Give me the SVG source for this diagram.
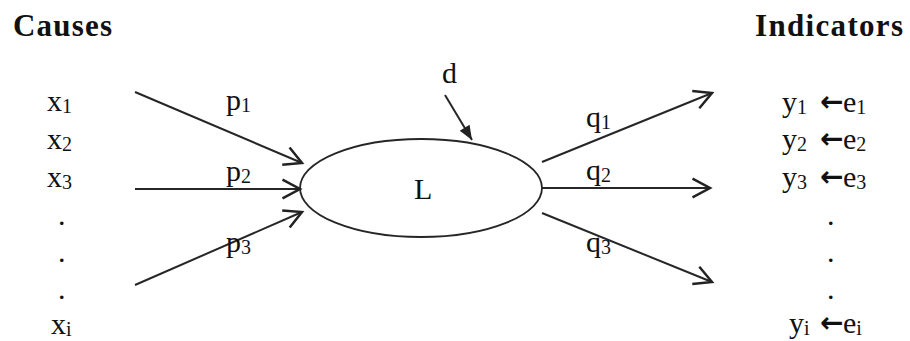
<svg xmlns="http://www.w3.org/2000/svg" width="910" height="341" viewBox="0 0 910 341">
<style>
text{font-family:"Liberation Serif","DejaVu Serif",serif;fill:#111}
.t{font-size:30px}
.s{font-size:20px}
.h{font-size:31px;font-weight:bold}
.ar{font-family:"DejaVu Sans",sans-serif;font-size:28px;font-weight:bold}
.ln{stroke:#262626;stroke-width:2;fill:none}
</style>
<defs>
<marker id="open" markerUnits="userSpaceOnUse" markerWidth="30" markerHeight="30" viewBox="-20 -12 24 24" refX="0" refY="0" orient="auto">
<path d="M-14,-7.5 L0,0 L-14,7.5" fill="none" stroke="#222" stroke-width="2"/>
</marker>
<marker id="solid" markerUnits="userSpaceOnUse" markerWidth="20" markerHeight="20" viewBox="-12 -6 14 12" refX="0" refY="0" orient="auto">
<path d="M-10,-4 L0,0 L-10,4 Z" fill="#222"/>
</marker>
</defs>
<rect width="910" height="341" fill="#fff"/>
<g id="headers">
<text class="h" x="13" y="36" textLength="99">Causes</text>
<text class="h" x="755" y="36" textLength="148">Indicators</text>
</g>
<g id="causes">
<text class="t" x="47" y="111">x<tspan class="s" dy="2">1</tspan></text>
<text class="t" x="47" y="149">x<tspan class="s" dy="2">2</tspan></text>
<text class="t" x="47" y="187">x<tspan class="s" dy="2">3</tspan></text>
<text class="t" x="58" y="225">.</text>
<text class="t" x="58" y="262">.</text>
<text class="t" x="58" y="299">.</text>
<text class="t" x="51" y="334">x<tspan class="s" dy="2">i</tspan></text>
</g>
<g id="latent">
<ellipse cx="421" cy="188" rx="121" ry="49" fill="#fff" stroke="#262626" stroke-width="1.8"/>
<text class="t" x="414" y="199">L</text>
</g>
<g id="disturbance">
<text class="t" x="442" y="83">d</text>
</g>
<g id="indicators">
<text class="t" y="112"><tspan x="782">y</tspan><tspan class="s" dy="2">1</tspan><tspan class="ar" x="820" dy="-3">←</tspan><tspan x="843" dy="1">e</tspan><tspan class="s" dy="2">1</tspan></text>
<text class="t" y="149"><tspan x="782">y</tspan><tspan class="s" dy="2">2</tspan><tspan class="ar" x="820" dy="-3">←</tspan><tspan x="843" dy="1">e</tspan><tspan class="s" dy="2">2</tspan></text>
<text class="t" y="187"><tspan x="782">y</tspan><tspan class="s" dy="2">3</tspan><tspan class="ar" x="820" dy="-3">←</tspan><tspan x="843" dy="1">e</tspan><tspan class="s" dy="2">3</tspan></text>
<text class="t" x="827" y="225">.</text>
<text class="t" x="827" y="262">.</text>
<text class="t" x="827" y="299">.</text>
<text class="t" y="333"><tspan x="789">y</tspan><tspan class="s" dy="2">i</tspan><tspan class="ar" x="820" dy="-3">←</tspan><tspan x="843" dy="1">e</tspan><tspan class="s" dy="2">i</tspan></text>
</g>
<g id="connectors">
<line class="ln" x1="135" y1="92" x2="302" y2="163" marker-end="url(#open)"/>
<line class="ln" x1="135" y1="189" x2="300" y2="189" marker-end="url(#open)"/>
<line class="ln" x1="135" y1="285" x2="302" y2="212" marker-end="url(#open)"/>
<line class="ln" x1="542" y1="162" x2="712" y2="93" marker-end="url(#open)"/>
<line class="ln" x1="542" y1="188" x2="710" y2="188" marker-end="url(#open)"/>
<line class="ln" x1="542" y1="213" x2="712" y2="282" marker-end="url(#open)"/>
<line class="ln" x1="445" y1="95" x2="472" y2="140" marker-end="url(#solid)"/>
</g>
<g id="labels">
<text class="t" x="226" y="110">p<tspan class="s" dy="2">1</tspan></text>
<text class="t" x="226" y="181">p<tspan class="s" dy="2">2</tspan></text>
<text class="t" x="226" y="252">p<tspan class="s" dy="2">3</tspan></text>
<text class="t" x="586" y="127">q<tspan class="s" dy="2">1</tspan></text>
<text class="t" x="586" y="180">q<tspan class="s" dy="2">2</tspan></text>
<text class="t" x="586" y="252">q<tspan class="s" dy="2">3</tspan></text>
</g>
</svg>
